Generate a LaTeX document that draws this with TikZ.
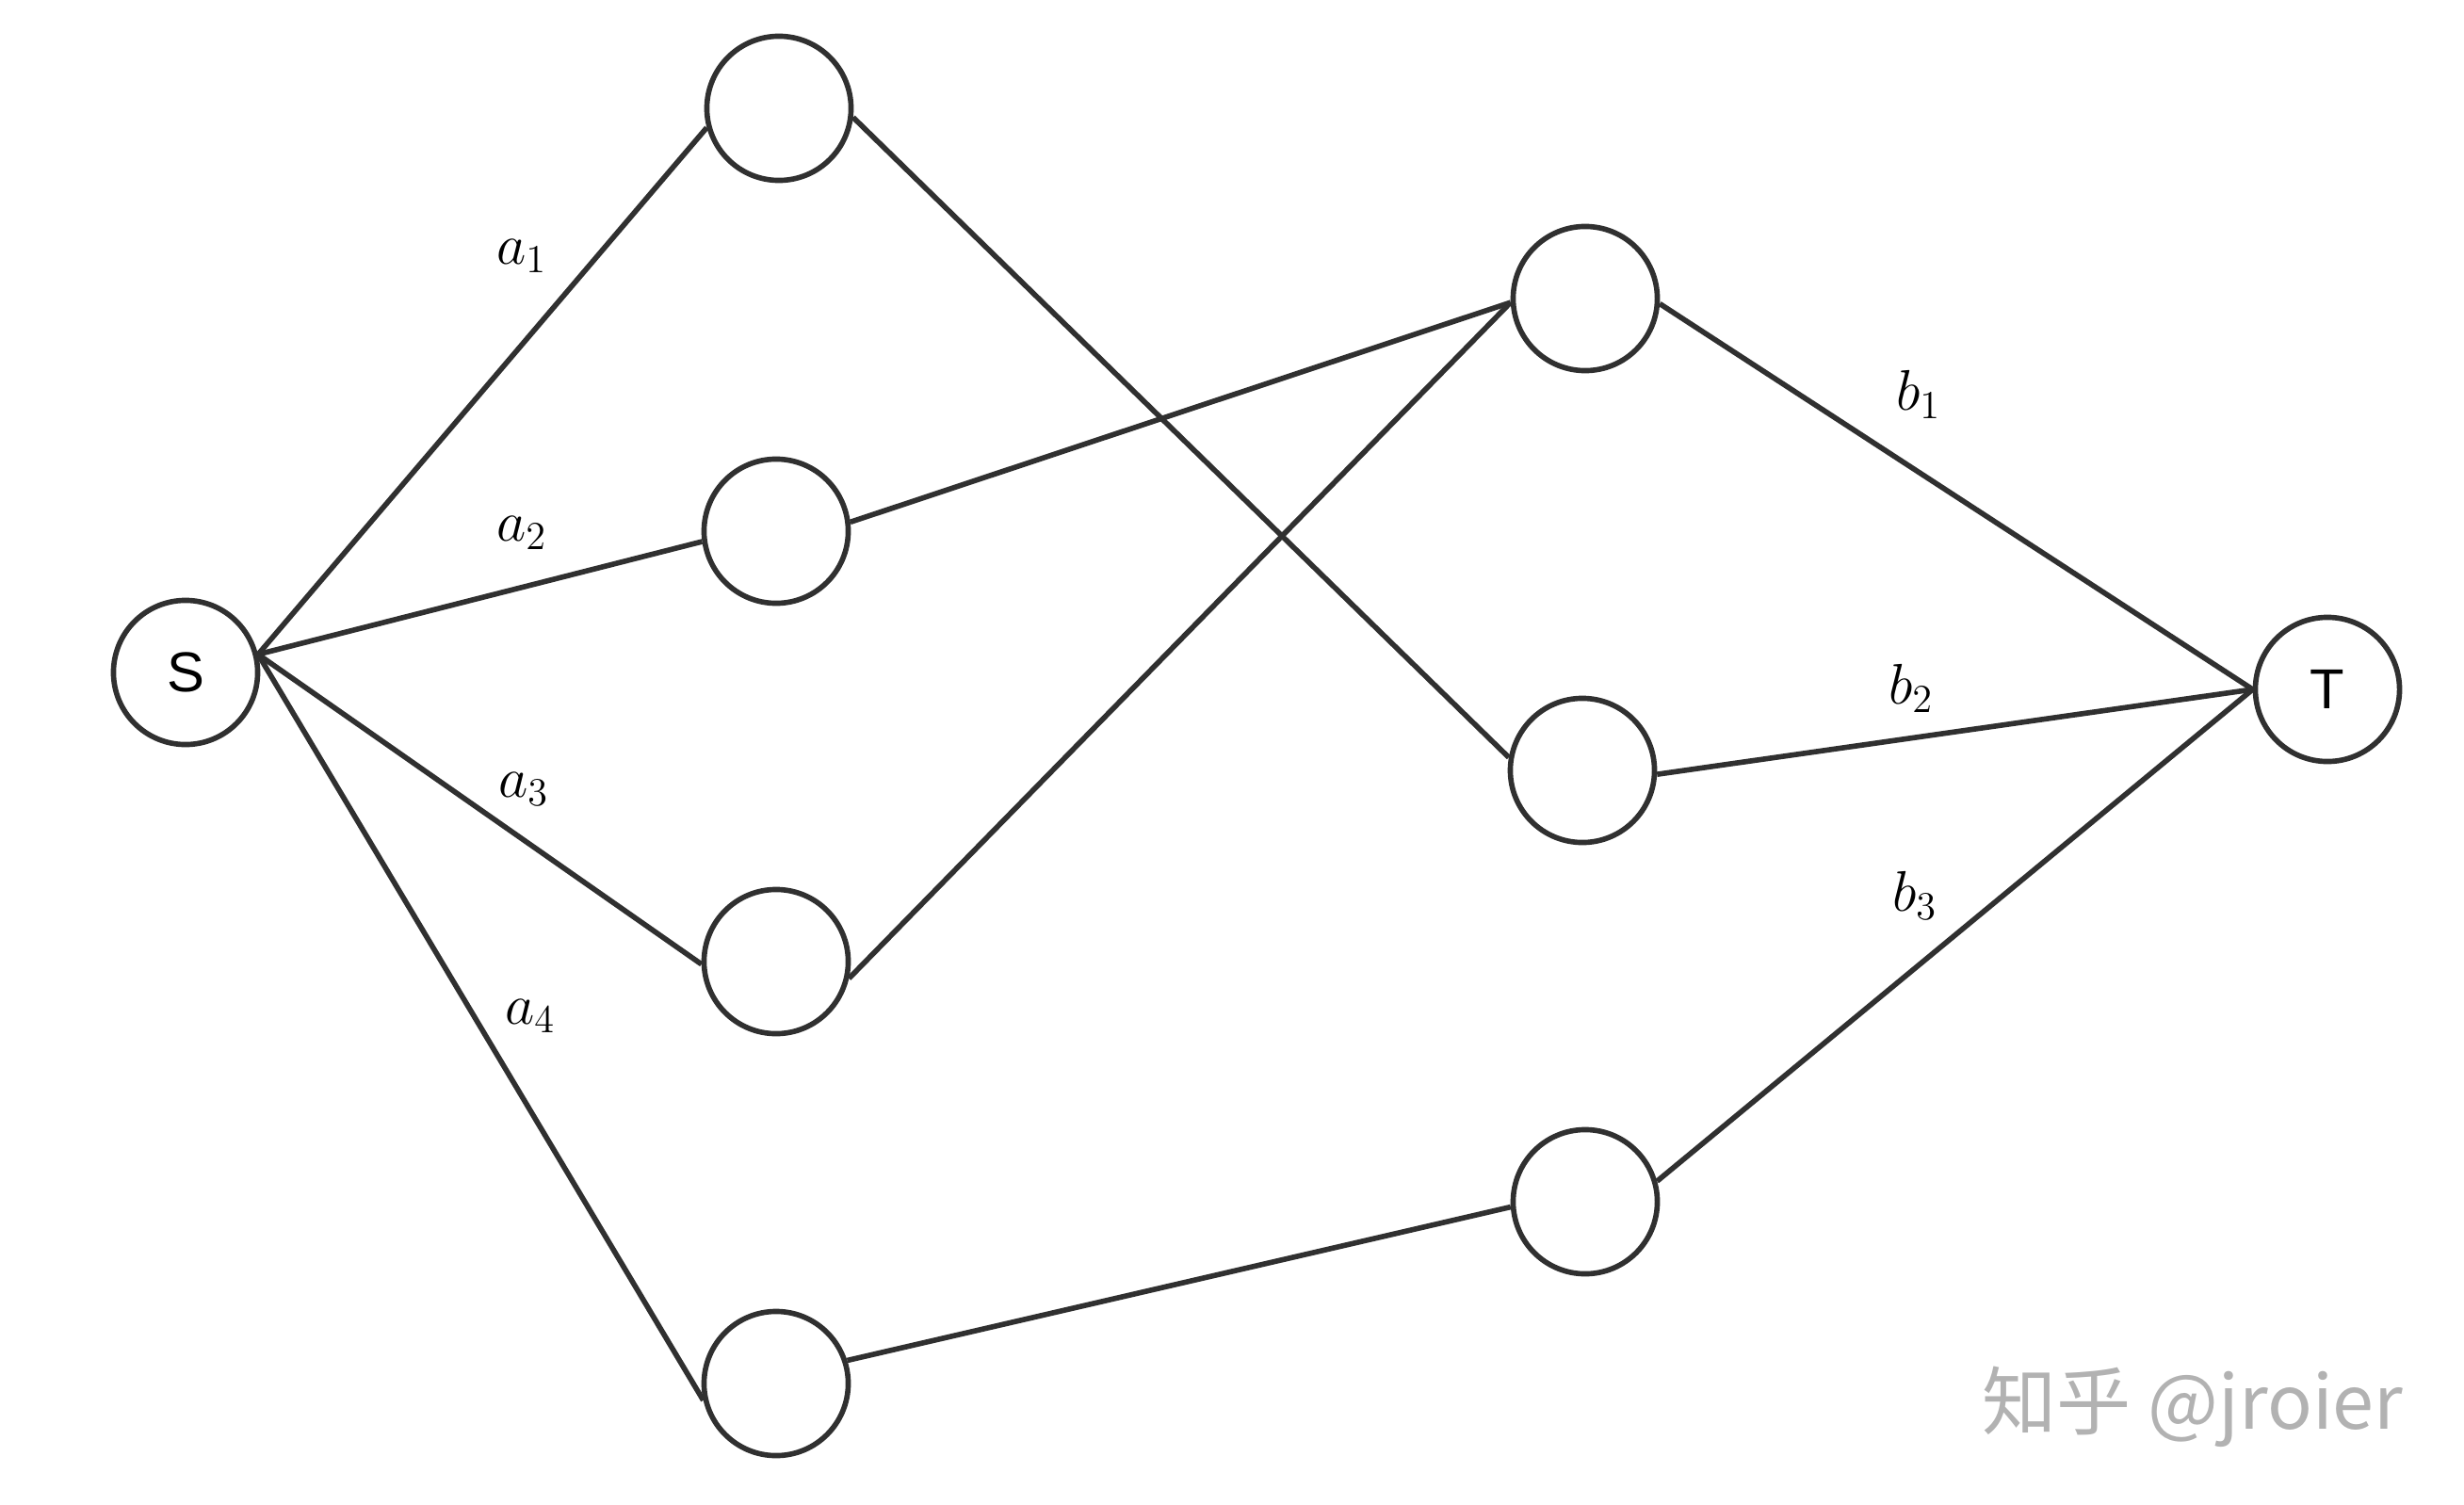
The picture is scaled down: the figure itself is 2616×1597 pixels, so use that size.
\documentclass[tikz,border=0pt]{standalone}
\usepackage{fontspec}
\newfontfamily\nodesans{Liberation Sans}
\newfontfamily\cjkfont{Noto Sans CJK SC}
\definecolor{edgecol}{RGB}{48,48,48}
\definecolor{wmcol}{RGB}{178,178,178}
\begin{document}
\begin{tikzpicture}[x=0.01cm,y=-0.01cm,
  vtx/.style={circle,draw=edgecol,line width=1.6pt,minimum size=1.53cm,inner sep=0pt,
    font=\nodesans\fontsize{17}{20}\selectfont},
  conn/.style={draw=edgecol,line width=1.6pt},
  lbl/.style={font=\fontsize{17.28}{21}\selectfont,inner sep=0pt}]
\useasboundingbox[fill=white] (0,0) rectangle (2616,1597);
% vertices
\node[vtx] (S) at (197,714) {S};
\node[vtx] (T) at (2471,732) {T};
\node[vtx] (A1) at (827,115) {};
\node[vtx] (A2) at (824,564) {};
\node[vtx] (A3) at (824,1021) {};
\node[vtx] (A4) at (824,1469) {};
\node[vtx] (B1) at (1683,317) {};
\node[vtx] (B2) at (1680,818) {};
\node[vtx] (B3) at (1683,1276) {};
% edges
\draw[conn] (S.14) -- (A1.195);
\draw[conn] (S.14) -- (A2.188);
\draw[conn] (S.14) -- (A3.182);
\draw[conn] (S.14) -- (A4.193);
\draw[conn] (A1.353) -- (B2.170);
\draw[conn] (A2.7) -- (B1.183);
\draw[conn] (A3.347) -- (B1.183);
\draw[conn] (A4.18) -- (B3.184);
\draw[conn] (B1.356) -- (T.180);
\draw[conn] (B2.357) -- (T.180);
\draw[conn] (B3.16) -- (T.180);
% labels
\node[lbl] (la1) at (554,272) {$a_1$};
\node[lbl] (la2) at (554,566) {$a_2$};
\node[lbl] (la3) at (556,838) {$a_3$};
\node[lbl] (la4) at (563,1079) {$a_4$};
\node[lbl] (lb1) at (2037,419) {$b_1$};
\node[lbl] (lb2) at (2029,731) {$b_2$};
\node[lbl] (lb3) at (2033,951) {$b_3$};
% watermark
\node[anchor=base west,inner sep=0pt,text=wmcol,font=\cjkfont\fontsize{22.5}{27}\selectfont] (wm) at (2104,1517) {知乎 @jroier};
\end{tikzpicture}
\end{document}
